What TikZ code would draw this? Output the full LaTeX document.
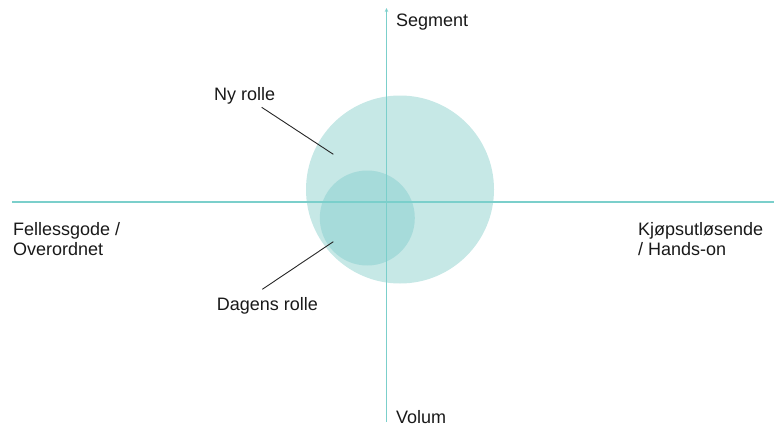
\documentclass[tikz,border=0pt]{standalone}
\usepackage{fontspec}
\setmainfont{Liberation Sans}
\usetikzlibrary{positioning,arrows.meta}
\definecolor{axisteal}{HTML}{7BCFCB}
\definecolor{nyfill}{HTML}{C6E8E6}
\definecolor{dagfill}{HTML}{A6DBDA}

\begin{document}
\begin{tikzpicture}[x=1pt, y=-1pt, every node/.style={font=\fontsize{18}{20}\selectfont, inner sep=0pt, text=black!90}]
\useasboundingbox (0,0) rectangle (776,428);
\fill[nyfill] (400,189.5) circle[radius=94];
\fill[dagfill] (367.3,218) circle[radius=47.5];
\coordinate (west) at (12,202);
\coordinate (east) at (774,202);
\coordinate (south) at (386.5,422);
\coordinate (north) at (386.5,8);
\draw[axisteal, line width=1.2pt] (west)--(east);
\draw[axisteal, line width=1.2pt, -{Stealth[length=4pt,width=3.5pt]}] (south)--(north);
\node[anchor=base west] (seg) at (396,27) {Segment};
\node[anchor=base west] (vol) at (396,423) {Volum};
\node[anchor=base west, align=left] (felles) at (13,255) {Fellessgode /\\Overordnet};
\node[anchor=base west, align=left] (kjops) at (638,255) {Kjøpsutløsende\\/ Hands-on};
\node[anchor=base west] (ny) at (214,100) {Ny rolle};
\node[anchor=base west] (dag) at (216.7,310) {Dagens rolle};
\coordinate (nystart) at (261.7,107.3);
\coordinate (nyend) at (333.3,154.3);
\coordinate (dagstart) at (262.3,289.3);
\coordinate (dagend) at (333.3,241.7);
\draw[black!85, line width=0.9pt] (nystart)--(nyend);
\draw[black!85, line width=0.9pt] (dagstart)--(dagend);
\end{tikzpicture}
\end{document}
